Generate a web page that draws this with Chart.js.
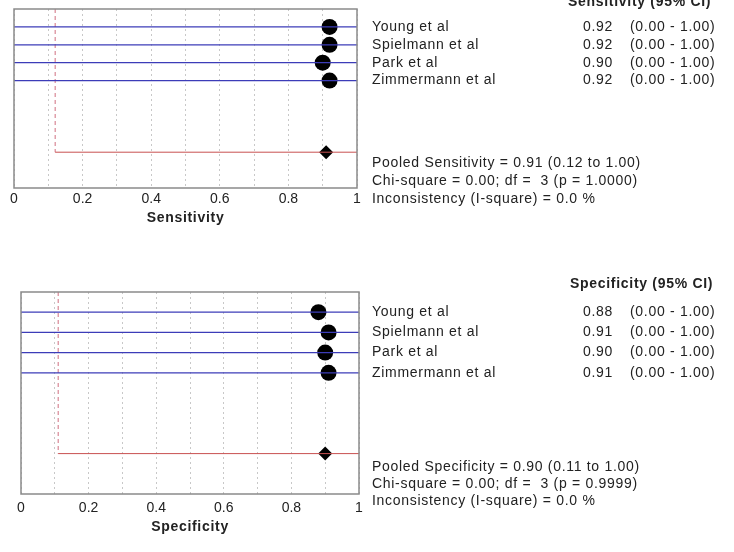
<!DOCTYPE html>
<html>
<head>
<meta charset="utf-8">
<script src="https://cdn.jsdelivr.net/npm/chart.js@4.4.1/dist/chart.umd.min.js"></script>
<style>
  html, body { margin: 0; padding: 0; background: #fff; }
  canvas { display: block; }
</style>
</head>
<body>
<canvas id="sensChart" width="734" height="276"></canvas>
<canvas id="specChart" width="734" height="276"></canvas>
<script>
// studies
var studies = ["Young et al", "Spielmann et al", "Park et al", "Zimmermann et al"];
var xTicks = [0, 0.2, 0.4, 0.6, 0.8, 1];

// Sensitivity
var sensValues = [0.92, 0.92, 0.90, 0.92];
var sensLower = [0.0, 0.0, 0.0, 0.0];
var sensUpper = [1.0, 1.0, 1.0, 1.0];
var sensPooled = 0.91;
var sensPooledLower = 0.12;
var sensPooledUpper = 1.0;
var sensStats = [
  "Pooled Sensitivity = 0.91 (0.12 to 1.00)",
  "Chi-square = 0.00; df =  3 (p = 1.0000)",
  "Inconsistency (I-square) = 0.0 %",
];

// Specificity
var specValues = [0.88, 0.91, 0.90, 0.91];
var specLower = [0.0, 0.0, 0.0, 0.0];
var specUpper = [1.0, 1.0, 1.0, 1.0];
var specPooled = 0.90;
var specPooledLower = 0.11;
var specPooledUpper = 1.0;
var specStats = [
  "Pooled Specificity = 0.90 (0.11 to 1.00)",
  "Chi-square = 0.00; df =  3 (p = 0.9999)",
  "Inconsistency (I-square) = 0.0 %",
];

var POOLED_ROW = 8;
var FONT = "'Liberation Sans', Arial, sans-serif";

// frame + right-hand text table
var forestTextPlugin = {
  id: "forestText",
  afterDraw: function (chart, args, opts) {
    var ctx = chart.ctx;
    var area = chart.chartArea;
    var yScale = chart.scales.y;
    ctx.save();
    ctx.strokeStyle = "#8a8a8a";
    ctx.lineWidth = 1.5;
    ctx.strokeRect(area.left, area.top, area.right - area.left, area.bottom - area.top);

    ctx.fillStyle = "#222";
    ctx.letterSpacing = "0.7px";
    ctx.font = "bold 14px " + FONT;
    ctx.textAlign = "left";
    ctx.textBaseline = "alphabetic";
    ctx.fillText(opts.header, opts.headerX, opts.headerY);

    ctx.textAlign = "center";
    ctx.textBaseline = "middle";
    ctx.fillText(opts.axisTitle, (area.left + area.right) / 2, area.bottom + opts.titleOffset);

    ctx.font = "14px " + FONT;
    ctx.textAlign = "left";
    for (var i = 0; i < opts.names.length; i++) {
      var y = yScale.getPixelForValue(i + 1);
      ctx.fillText(opts.names[i], 372, y);
      ctx.fillText(opts.values[i].toFixed(2), 583, y);
      ctx.fillText("(" + opts.lower[i].toFixed(2) + " - " + opts.upper[i].toFixed(2) + ")", 630, y);
    }
    for (var j = 0; j < opts.stats.length; j++) {
      ctx.fillText(opts.stats[j], 372, opts.statsY[j]);
    }
    ctx.restore();
  },
};

function buildConfig(values, lower, upper, pooled, pooledLower, pooledUpper, extra) {
  var datasets = [];
  // study CI lines
  for (var i = 0; i < values.length; i++) {
    datasets.push({
      data: [{ x: lower[i], y: i + 1 }, { x: upper[i], y: i + 1 }],
      showLine: true,
      borderColor: "#3c3cb8",
      borderWidth: 1.2,
      pointRadius: 0,
    });
  }
  // pooled CI line
  datasets.push({
    data: [{ x: pooledLower, y: POOLED_ROW }, { x: pooledUpper, y: POOLED_ROW }],
    showLine: true,
    borderColor: "#c85050",
    borderWidth: 1,
    pointRadius: 0,
  });
  // dashed reference line
  datasets.push({
    data: [{ x: pooledLower, y: 0 }, { x: pooledLower, y: POOLED_ROW }],
    showLine: true,
    borderColor: "#d07080",
    borderWidth: 1,
    borderDash: [4, 3],
    pointRadius: 0,
  });
  // study points
  datasets.push({
    data: values.map(function (v, i) { return { x: v, y: i + 1 }; }),
    backgroundColor: "#000",
    borderWidth: 0,
    pointRadius: 8,
  });
  // pooled diamond
  datasets.push({
    data: [{ x: pooled, y: POOLED_ROW }],
    backgroundColor: "#000",
    borderWidth: 0,
    pointStyle: "rectRot",
    pointRadius: 7,
  });

  return {
    type: "scatter",
    data: { datasets: datasets },
    options: {
      responsive: false,
      animation: false,
      layout: { padding: extra.padding },
      plugins: {
        legend: { display: false },
        tooltip: { enabled: false },
        forestText: {
          header: extra.header,
          headerX: extra.headerX,
          headerY: extra.headerY,
          axisTitle: extra.axisTitle,
          titleOffset: extra.titleOffset,
          names: studies,
          values: values,
          lower: lower,
          upper: upper,
          stats: extra.stats,
          statsY: extra.statsY,
        },
      },
      scales: {
        x: {
          type: "linear",
          min: 0,
          max: 1,
          afterFit: function (scale) {
            scale.height = 40;
          },
          border: { display: false, dash: [2, 3] },
          grid: { color: "#c8c8c8", drawTicks: false },
          ticks: {
            stepSize: 0.1,
            padding: extra.tickPadding,
            color: "#222",
            font: { size: 14, family: FONT },
            maxRotation: 0,
            autoSkip: false,
            callback: function (value) {
              for (var k = 0; k < xTicks.length; k++) {
                if (Math.abs(xTicks[k] - value) < 1e-6) return String(xTicks[k]);
              }
              return "";
            },
          },
        },
        y: {
          type: "linear",
          min: 0,
          max: 10,
          reverse: true,
          display: false,
        },
      },
    },
    plugins: [forestTextPlugin],
  };
}

var sensConfig = buildConfig(sensValues, sensLower, sensUpper, sensPooled, sensPooledLower, sensPooledUpper, {
  padding: { left: 14, right: 377, top: 9, bottom: 48 },
  header: "Sensitivity (95% CI)",
  headerX: 568,
  headerY: 6,
  axisTitle: "Sensitivity",
  titleOffset: 30,
  tickPadding: 3,
  stats: sensStats,
  statsY: [163, 181, 199],
});

var specConfig = buildConfig(specValues, specLower, specUpper, specPooled, specPooledLower, specPooledUpper, {
  padding: { left: 21, right: 375, top: 16, bottom: 18 },
  header: "Specificity (95% CI)",
  headerX: 570,
  headerY: 12,
  axisTitle: "Specificity",
  titleOffset: 33,
  tickPadding: 6,
  stats: specStats,
  statsY: [191, 208, 225],
});

new Chart(document.getElementById("sensChart"), sensConfig);
new Chart(document.getElementById("specChart"), specConfig);
</script>
</body>
</html>
